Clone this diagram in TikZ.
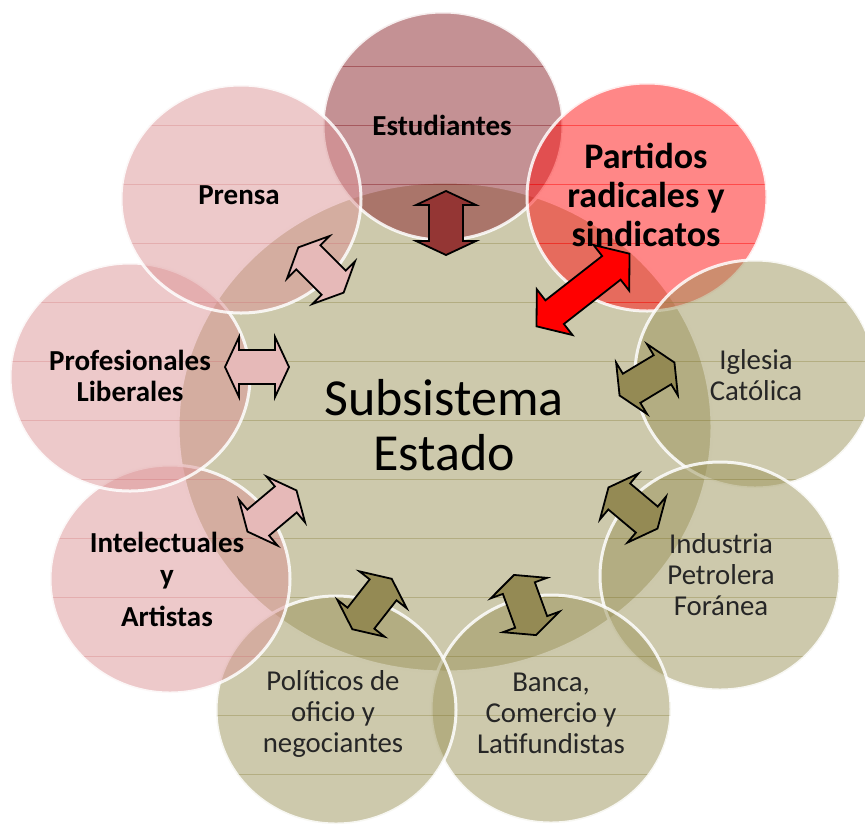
\documentclass[tikz,border=0pt]{standalone}
\usepackage{fontspec}
\setmainfont{Carlito}
\definecolor{centro}{RGB}{205,201,172}
\definecolor{oliva}{RGB}{155,147,89}
\definecolor{rosa}{RGB}{219,147,149}
\definecolor{granate}{RGB}{137,35,41}
\definecolor{rojo}{RGB}{255,15,15}
\definecolor{flechaoliva}{RGB}{148,138,84}
\definecolor{flecharosa}{RGB}{230,185,184}
\definecolor{flechagranate}{RGB}{148,54,52}
\tikzset{
  borde/.style={draw=white, line width=1.5pt},
  raya/.style={line width=0.5pt, opacity=0.5},
  flecha/.style={draw=black, line width=0.9pt, line join=miter},
  rotulo/.style={align=center, inner sep=0pt},
  rosatxt/.style={rotulo, text=black, font=\bfseries\fontsize{14.5}{15.4}\selectfont},
  olivatxt/.style={rotulo, text=black!85, font=\fontsize{14.4}{15.5}\selectfont},
}

\begin{document}
\begin{tikzpicture}[x=0.5pt,y=-0.5pt]
\useasboundingbox (0,0) rectangle (865,825);
% subsistema central
\begin{scope}
\clip (445,427) ellipse [x radius=267, y radius=245];
\fill[centro] (445,427) ellipse [x radius=267, y radius=245];
\foreach \ly in {66,125,...,780} {
\draw[oliva, raya] (0,\ly) -- (865,\ly);
}
\end{scope}
\draw[borde] (445,427) ellipse [x radius=267, y radius=245];
\coordinate (estado) at (445,427);

% circulos de los actores
\foreach \nombre/\cx/\cy/\col in {estudiantes/443/126/granate, partidos/647/197/rojo,
  iglesia/755/374/oliva, industria/720/576/oliva, banca/551/709/oliva,
  politicos/336/710/oliva, intelectuales/170/579/rosa, profesionales/130/377/rosa,
  prensa/241/199/rosa} {
\begin{scope}
\clip (\cx,\cy) ellipse [x radius=120, y radius=114];
\fill[\col, opacity=0.5] (\cx,\cy) ellipse [x radius=120, y radius=114];
\foreach \ly in {66,125,...,780} {
\draw[\col, raya] (0,\ly) -- (865,\ly);
}
\end{scope}
\draw[borde, draw opacity=0.85] (\cx,\cy) ellipse [x radius=120, y radius=114];
\coordinate (\nombre) at (\cx,\cy);
}

% flechas dobles
\foreach \nombre/\ax/\ay/\ang/\col in {fprensa/321/270/-45/flecharosa,
  fprofesionales/257/367/0/flecharosa, fintelectuales/272/511/40/flecharosa,
  festudiantes/446/223/90/flechagranate, figlesia/647/379/31/flechaoliva,
  findustria/633/508/-40/flechaoliva, fbanca/525/605/110/flechaoliva,
  fpoliticos/372/604/52/flechaoliva} {
\draw[flecha, fill=\col, shift={(\ax,\ay)}, rotate=\ang] (-32,0) -- (-18,30) -- (-18,17)
  -- (18,17) -- (18,30) -- (32,0) -- (18,-30) -- (18,-17) -- (-18,-17) -- (-18,-30) -- cycle;
\coordinate (\nombre) at (\ax,\ay);
}
\draw[flecha, fill=red, shift={(583,290)}, rotate=38] (-59,0) -- (-36,29) -- (-36,15)
  -- (36,15) -- (36,29) -- (59,0) -- (36,-29) -- (36,-15) -- (-36,-15) -- (-36,-29) -- cycle;
\coordinate (fpartidos) at (583,290);

% textos
\node[rotulo, font=\fontsize{26}{27.5}\selectfont] (testado) at (444,425) {Subsistema\\Estado};
\node[rosatxt] (testudiantes) at (442,125) {Estudiantes};
\node[rosatxt] (tprensa) at (239,195) {Prensa};
\node[rosatxt] (tprofesionales) at (130,376) {Profesionales\\Liberales};
\node[rosatxt, font=\bfseries\fontsize{14.5}{16}\selectfont] (tintelectuales) at (167,579) {Intelectuales\\y\\[5pt]Artistas};
\node[rotulo, font=\bfseries\fontsize{18}{19.5}\selectfont] (tpartidos) at (646,195) {Partidos\\radicales y\\sindicatos};
\node[olivatxt] (tiglesia) at (756,375) {Iglesia\\Católica};
\node[olivatxt] (tindustria) at (721,575) {Industria\\Petrolera\\Foránea};
\node[olivatxt] (tbanca) at (551,713) {Banca,\\Comercio y\\Latifundistas};
\node[olivatxt] (tpoliticos) at (333,714) {Políticos de\\oficio y\\negociantes};
\end{tikzpicture}
\end{document}
